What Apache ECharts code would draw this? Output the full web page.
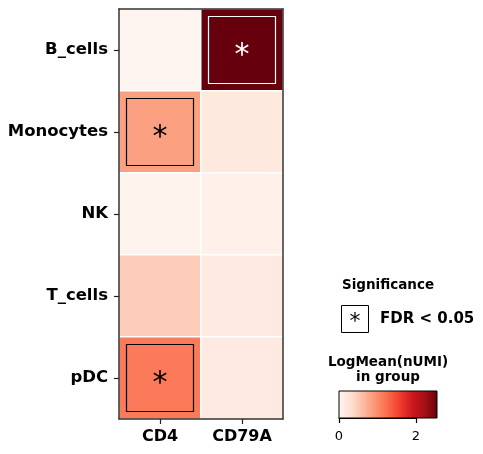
<!DOCTYPE html>
<html>
<head>
<meta charset="utf-8">
<script src="https://cdn.jsdelivr.net/npm/echarts@6/dist/echarts.min.js"></script>
<style>
  html, body { margin: 0; padding: 0; background: #fff; }
  #chart { width: 483px; height: 454px; }
</style>
</head>
<body>
<div id="chart"></div>
<script>
var cellTypes = ['B_cells', 'Monocytes', 'NK', 'T_cells', 'pDC'];
var genes = ['CD4', 'CD79A'];
var cd4Values = [0.0, 0.85, 0.03, 0.48, 1.15];
var cd79aValues = [2.55, 0.18, 0.06, 0.17, 0.17];
var cd4Significant = [false, true, false, false, true];
var cd79aSignificant = [true, false, false, false, false];
var colorMax = 2.55;
var colorbarTicks = [0, 2];

// matplotlib "Reds"
var reds = ['#fff5f0', '#fee0d2', '#fcbba1', '#fc9272', '#fb6a4a', '#ef3b2c', '#cb181d', '#a50f15', '#67000d'];
var font = 'DejaVu Sans';
var frame = { color: '#333', width: 1.5 };
var cbLeft = 339, cbWidth = 98;

var heatData = [];
var sigData = [];
[cd4Values, cd79aValues].forEach(function (vals, g) {
  var sig = g === 0 ? cd4Significant : cd79aSignificant;
  vals.forEach(function (v, c) {
    heatData.push([g, c, v]);
    if (sig[c]) {
      sigData.push({
        value: [g, c],
        itemStyle: { borderColor: v > 1.8 ? '#fff' : '#000' },
        label: { color: v > 1.8 ? '#fff' : '#000' }
      });
    }
  });
});

// bare axis used only to close the frame on top / right
function frameAxis(pos, data) {
  return {
    type: 'category', gridIndex: 0, data: data, position: pos, z: 10,
    inverse: pos === 'right',
    axisLine: { show: true, lineStyle: frame },
    axisTick: { show: false }, axisLabel: { show: false }, splitLine: { show: false }
  };
}

var chart = echarts.init(document.getElementById('chart'));

var tickMax = colorbarTicks[colorbarTicks.length - 1];

var option = {
  backgroundColor: '#fff',
  animation: false,
  textStyle: { fontFamily: font },
  grid: [{
    left: 119, top: 9, width: 164, height: 410
  }, {
    // colour bar
    left: cbLeft, top: 391, width: cbWidth, height: 27,
    show: true, borderColor: '#000', borderWidth: 1,
    backgroundColor: new echarts.graphic.LinearGradient(0, 0, 1, 0,
      reds.map(function (c, i) { return { offset: i / (reds.length - 1), color: c }; }))
  }, {
    // tick scale of the colour bar, 0..last tick
    left: cbLeft, top: 391, width: cbWidth * tickMax / colorMax, height: 27
  }],
  xAxis: [{
    type: 'category', gridIndex: 0, data: genes, z: 10,
    axisLine: { show: true, lineStyle: frame },
    axisTick: { show: true, alignWithLabel: true, length: 5, lineStyle: { color: '#222', width: 1.2 } },
    axisLabel: { color: '#000', fontWeight: 'bold', fontSize: 16, fontFamily: font, margin: 10 },
    splitLine: { show: false }
  }, {
    type: 'value', gridIndex: 1, min: 0, max: colorMax, show: false
  }, frameAxis('top', genes), {
    type: 'value', gridIndex: 2, min: 0, max: tickMax, interval: tickMax, z: 10,
    axisLine: { show: true, lineStyle: { color: '#000', width: 1 } },
    axisTick: { show: true, length: 5, lineStyle: { color: '#000', width: 1.2 } },
    axisLabel: { color: '#000', fontSize: 13, fontFamily: font, margin: 12 },
    splitLine: { show: false }
  }],
  yAxis: [{
    type: 'category', gridIndex: 0, data: cellTypes, inverse: true, z: 10,
    axisLine: { show: true, lineStyle: frame },
    axisTick: { show: true, alignWithLabel: true, length: 5, lineStyle: { color: '#222', width: 1.2 } },
    axisLabel: { color: '#000', fontWeight: 'bold', fontSize: 16.5, fontFamily: font, margin: 11 },
    splitLine: { show: false }
  }, {
    type: 'value', gridIndex: 1, show: false, min: 0, max: 1
  }, frameAxis('right', cellTypes), {
    type: 'value', gridIndex: 2, show: false, min: 0, max: 1
  }],
  visualMap: {
    show: false, type: 'continuous', min: 0, max: colorMax, seriesIndex: 0,
    inRange: { color: reds }
  },
  series: [{
    type: 'heatmap', xAxisIndex: 0, yAxisIndex: 0, data: heatData,
    itemStyle: { borderColor: '#fff', borderWidth: 1.5 },
    emphasis: { disabled: true }
  }, {
    type: 'scatter', xAxisIndex: 0, yAxisIndex: 0, data: sigData,
    symbol: 'rect', symbolSize: 67, z: 5,
    itemStyle: { color: 'rgba(0,0,0,0)', borderWidth: 1.2, opacity: 1 },
    label: { show: true, position: 'inside', formatter: '*', fontSize: 30, fontFamily: font, offset: [0, 6] },
    emphasis: { disabled: true }
  }],
  graphic: [
    { type: 'text', x: 388, y: 285,
      style: { text: 'Significance', font: 'bold 13.5px "DejaVu Sans"', fill: '#000', align: 'center', verticalAlign: 'middle' } },
    { type: 'rect', shape: { x: 341.5, y: 305.5, width: 27, height: 27 },
      style: { fill: '#fff', stroke: '#000', lineWidth: 1 } },
    { type: 'text', x: 355, y: 322,
      style: { text: '*', font: '22px "DejaVu Sans"', fill: '#000', align: 'center', verticalAlign: 'middle' } },
    { type: 'text', x: 380, y: 319,
      style: { text: 'FDR < 0.05', font: 'bold 15px "DejaVu Sans"', fill: '#000', verticalAlign: 'middle' } },
    { type: 'text', x: 388, y: 355,
      style: { text: 'LogMean(nUMI)\nin group', font: 'bold 13.5px "DejaVu Sans"', fill: '#000',
        align: 'center', lineHeight: 15 } }
  ]
};

chart.setOption(option);
</script>
</body>
</html>
